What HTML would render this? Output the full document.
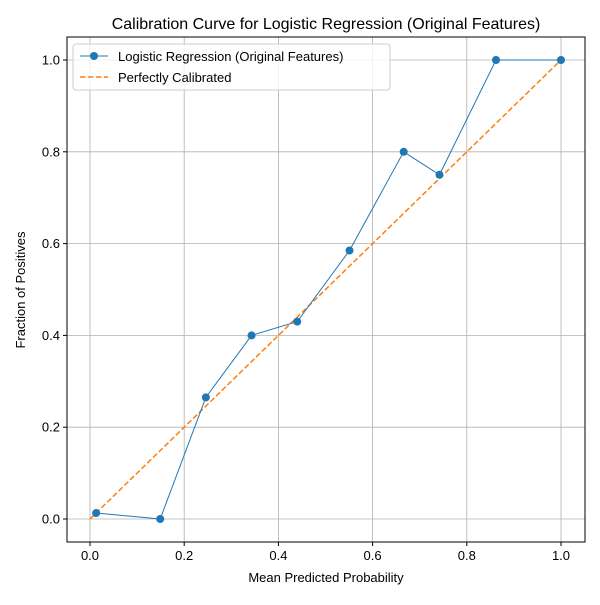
<!DOCTYPE html>
<html><head><meta charset="utf-8"><style>
body{margin:0;background:#fff}
svg text{font-family:"Liberation Sans","DejaVu Sans",sans-serif;fill:#000}
</style></head><body>
<svg id="chart" width="600" height="600" xmlns="http://www.w3.org/2000/svg">
<rect width="600" height="600" fill="#fff"/>
<text x="326" y="29" font-size="16" text-anchor="middle">Calibration Curve for Logistic Regression (Original Features)</text>
<g id="grid"></g>
<g id="ticks"></g>
<g id="series"></g>
<rect x="67" y="37" width="518" height="505" fill="none" stroke="#000" stroke-width="1"/>
<text x="326" y="582" font-size="13" text-anchor="middle">Mean Predicted Probability</text>
<text x="25" y="290" font-size="13" text-anchor="middle" transform="rotate(-90 25 290)">Fraction of Positives</text>
<g>
<rect x="73" y="44" width="317" height="46" rx="3" fill="#fff" fill-opacity="0.8" stroke="#ccc"/>
<g>
<line x1="80" y1="56" x2="108" y2="56" stroke="#1f77b4" stroke-width="1"/>
<circle cx="94" cy="56" r="4" fill="#1f77b4"/>
<text x="118" y="61" font-size="13">Logistic Regression (Original Features)</text>
</g>
<g>
<line x1="80" y1="77" x2="108" y2="77" stroke="#ff7f0e" stroke-width="1.5" stroke-dasharray="5.5,2.5"/>
<text x="118" y="82" font-size="13">Perfectly Calibrated</text>
</g>
</g>
</svg>
<script>
const meanPred = [0.013, 0.149, 0.246, 0.343, 0.440, 0.551, 0.666, 0.742, 0.862, 1.0];
const fracPos = [0.013, 0.0, 0.265, 0.40, 0.43, 0.585, 0.80, 0.75, 1.0, 1.0];
const perfectX = [0, 1];
const perfectY = [0, 1];
const xTicks = [0, 0.2, 0.4, 0.6, 0.8, 1.0];
const yTicks = [0, 0.2, 0.4, 0.6, 0.8, 1.0];
const xTickLabels = ["0.0", "0.2", "0.4", "0.6", "0.8", "1.0"];
const yTickLabels = ["0.0", "0.2", "0.4", "0.6", "0.8", "1.0"];

const NS = "http://www.w3.org/2000/svg";
const xs = v => 90 + v * 471;
const ys = v => 519 - v * 459;
function mk(tag, attrs, parent){const e=document.createElementNS(NS,tag);for(const k in attrs)e.setAttribute(k,attrs[k]);parent.appendChild(e);return e;}
const grid=document.getElementById('grid'), ticks=document.getElementById('ticks'), series=document.getElementById('series');
xTicks.forEach((t,i)=>{
  const g=mk('line',{x1:xs(t),x2:xs(t),y1:37,y2:542,stroke:'#b0b0b0','stroke-width':0.8},grid);
  
  
  mk('line',{x1:xs(t),x2:xs(t),y1:542,y2:546,stroke:'#000'},ticks);
  const l=mk('text',{x:xs(t),y:560,'font-size':13,'text-anchor':'middle'},ticks);
  l.textContent=xTickLabels[i];
  
  
});
yTicks.forEach((t,i)=>{
  const g=mk('line',{x1:67,x2:585,y1:ys(t),y2:ys(t),stroke:'#b0b0b0','stroke-width':0.8},grid);
  
  
  mk('line',{x1:63,x2:67,y1:ys(t),y2:ys(t),stroke:'#000'},ticks);
  const l=mk('text',{x:60,y:ys(t)+4.5,'font-size':13,'text-anchor':'end'},ticks);
  l.textContent=yTickLabels[i];
  
  
});
const pl=mk('polyline',{points:perfectX.map((x,i)=>xs(x)+','+ys(perfectY[i])).join(' '),fill:'none',stroke:'#ff7f0e','stroke-width':1.5,'stroke-dasharray':'5.5,2.5'},series);


const ln=mk('polyline',{points:meanPred.map((x,i)=>xs(x)+','+ys(fracPos[i])).join(' '),fill:'none',stroke:'#1f77b4','stroke-width':1},series);


meanPred.forEach((x,i)=>{
  const c=mk('circle',{cx:xs(x),cy:ys(fracPos[i]),r:4,fill:'#1f77b4'},series);
  
  
});
</script>
</body></html>
